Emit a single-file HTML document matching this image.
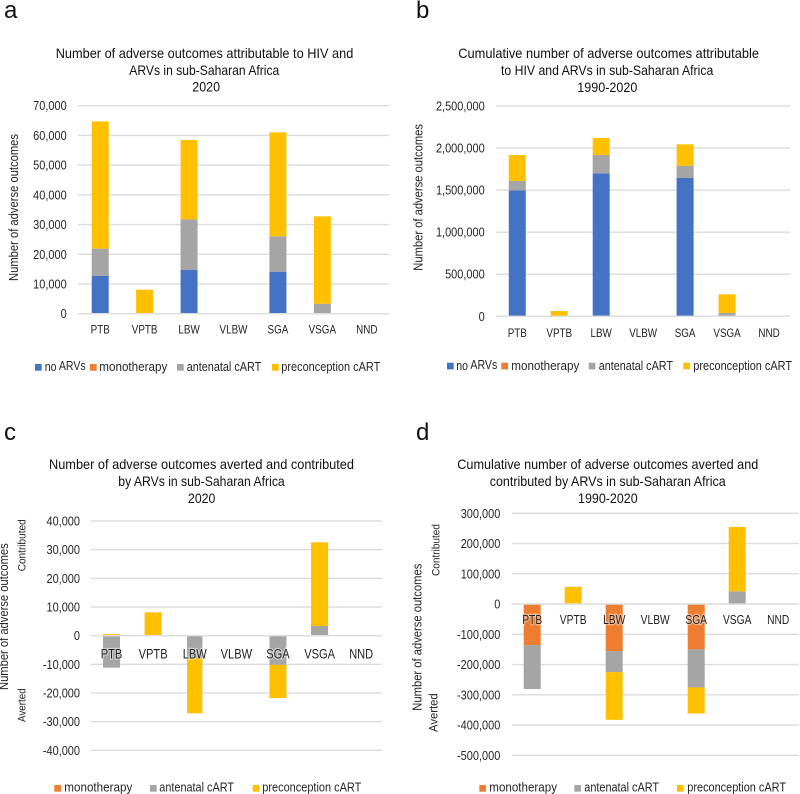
<!DOCTYPE html>
<html lang="en">
<head>
<meta charset="utf-8">
<title>Adverse outcomes attributable to HIV and ARVs in sub-Saharan Africa</title>
<style>
  html, body { margin: 0; padding: 0; background: #fff; }
  body { width: 800px; height: 794px; overflow: hidden; }
  svg { display: block; filter: blur(0.35px); }
  text { font-family: "Liberation Sans", sans-serif; fill: #262626; }
  .title { font-size: 13.8px; fill: #111; }
  .legend { font-size: 12.6px; fill: #262626; }
  .axis-title { font-size: 12.6px; fill: #262626; }
  .panel-letter { font-size: 24px; fill: #111; }
</style>
</head>
<body>
<svg id="figure" xmlns="http://www.w3.org/2000/svg" width="800" height="794" viewBox="0 0 800 794">
  <rect width="800" height="794" fill="#fff"/>

  <g id="panel-a">
    <text class="panel-letter" x="4" y="18">a</text>
    <g>
      <text class="title" x="55.7" y="58" textLength="297.6" lengthAdjust="spacingAndGlyphs">Number of adverse outcomes attributable to HIV and</text>
      <text class="title" x="129.3" y="75" textLength="150" lengthAdjust="spacingAndGlyphs">ARVs in sub-Saharan Africa</text>
      <text class="title" x="192.3" y="91.5" textLength="27.7" lengthAdjust="spacingAndGlyphs">2020</text>
    </g>
    <text class="axis-title" transform="translate(18,281) rotate(-90)" textLength="147" lengthAdjust="spacingAndGlyphs">Number of adverse outcomes</text>
    <g>
      <g><rect x="35" y="364" width="6.7" height="6.7" fill="#4472c4"/><text class="legend" x="44.7" y="371" textLength="41" lengthAdjust="spacingAndGlyphs">no <tspan dy="-1">ARVs</tspan></text></g>
      <g><rect x="90" y="364" width="6.7" height="6.7" fill="#ed7d31"/><text class="legend" x="99.3" y="371" textLength="68" lengthAdjust="spacingAndGlyphs">monotherapy</text></g>
      <g><rect x="177" y="364" width="6.7" height="6.7" fill="#a5a5a5"/><text class="legend" x="186.7" y="371" textLength="74.6" lengthAdjust="spacingAndGlyphs">antenatal cART</text></g>
      <g><rect x="272" y="364" width="6.7" height="6.7" fill="#ffc000"/><text class="legend" x="281.3" y="371" textLength="99" lengthAdjust="spacingAndGlyphs">preconception cART</text></g>
    </g>
  </g>

  <g id="panel-b">
    <text class="panel-letter" x="416" y="18">b</text>
    <g>
      <text class="title" x="458.3" y="58" textLength="300.7" lengthAdjust="spacingAndGlyphs">Cumulative number of adverse outcomes attributable</text>
      <text class="title" x="501" y="75" textLength="212.3" lengthAdjust="spacingAndGlyphs">to HIV and ARVs in sub-Saharan Africa</text>
      <text class="title" x="577.3" y="92" textLength="60" lengthAdjust="spacingAndGlyphs">1990-2020</text>
    </g>
    <text class="axis-title" transform="translate(422.7,270.7) rotate(-90)" textLength="146.7" lengthAdjust="spacingAndGlyphs">Number of adverse outcomes</text>
    <g>
      <g><rect x="447" y="362.7" width="6.7" height="6.7" fill="#4472c4"/><text class="legend" x="456.3" y="370" textLength="41" lengthAdjust="spacingAndGlyphs">no <tspan dy="-1">ARVs</tspan></text></g>
      <g><rect x="501.3" y="362.7" width="6.7" height="6.7" fill="#ed7d31"/><text class="legend" x="511.3" y="370" textLength="68" lengthAdjust="spacingAndGlyphs">monotherapy</text></g>
      <g><rect x="588.7" y="362.7" width="6.7" height="6.7" fill="#a5a5a5"/><text class="legend" x="598.7" y="370" textLength="74.3" lengthAdjust="spacingAndGlyphs">antenatal cART</text></g>
      <g><rect x="683.3" y="362.7" width="6.7" height="6.7" fill="#ffc000"/><text class="legend" x="693.3" y="370" textLength="98.7" lengthAdjust="spacingAndGlyphs">preconception cART</text></g>
    </g>
  </g>

  <g id="panel-c">
    <text class="panel-letter" x="4" y="440">c</text>
    <g>
      <text class="title" x="49" y="469" textLength="305" lengthAdjust="spacingAndGlyphs">Number of adverse outcomes averted and contributed</text>
      <text class="title" x="118.3" y="486" textLength="166.4" lengthAdjust="spacingAndGlyphs">by ARVs in sub-Saharan Africa</text>
      <text class="title" x="188" y="503" textLength="27.3" lengthAdjust="spacingAndGlyphs">2020</text>
    </g>
    <text class="axis-title" transform="translate(8,690) rotate(-90)" textLength="146.7" lengthAdjust="spacingAndGlyphs">Number of adverse outcomes</text>
    <text class="axis-title" style="font-size:11px" transform="translate(25.7,571.3) rotate(-90)" textLength="52" lengthAdjust="spacingAndGlyphs">Contributed</text>
    <text class="axis-title" style="font-size:11px" transform="translate(25.7,722) rotate(-90)" textLength="33.7" lengthAdjust="spacingAndGlyphs">Averted</text>
    <g>
      <g><rect x="54.3" y="785" width="6.7" height="6.7" fill="#ed7d31"/><text class="legend" x="64.3" y="791.7" textLength="68" lengthAdjust="spacingAndGlyphs">monotherapy</text></g>
      <g><rect x="150" y="785" width="6.7" height="6.7" fill="#a5a5a5"/><text class="legend" x="159.3" y="791.7" textLength="74.7" lengthAdjust="spacingAndGlyphs">antenatal cART</text></g>
      <g><rect x="252.7" y="785" width="6.7" height="6.7" fill="#ffc000"/><text class="legend" x="262.3" y="791.7" textLength="99" lengthAdjust="spacingAndGlyphs">preconception cART</text></g>
    </g>
  </g>

  <g id="panel-d">
    <text class="panel-letter" x="416" y="440">d</text>
    <g>
      <text class="title" x="457.3" y="469" textLength="301" lengthAdjust="spacingAndGlyphs">Cumulative number of adverse outcomes averted and</text>
      <text class="title" x="489.7" y="486" textLength="236" lengthAdjust="spacingAndGlyphs">contributed by ARVs in sub-Saharan Africa</text>
      <text class="title" x="578" y="503" textLength="59.7" lengthAdjust="spacingAndGlyphs">1990-2020</text>
    </g>
    <text class="axis-title" transform="translate(421.7,710.7) rotate(-90)" textLength="147" lengthAdjust="spacingAndGlyphs">Number of adverse outcomes</text>
    <text class="axis-title" style="font-size:11px" transform="translate(439.7,576) rotate(-90)" textLength="52" lengthAdjust="spacingAndGlyphs">Contributed</text>
    <text class="axis-title" style="font-size:11.5px" transform="translate(437.7,732) rotate(-90)" textLength="38.7" lengthAdjust="spacingAndGlyphs">Averted</text>
    <g>
      <g><rect x="479.3" y="785" width="6.7" height="6.7" fill="#ed7d31"/><text class="legend" x="489.3" y="791.7" textLength="67.7" lengthAdjust="spacingAndGlyphs">monotherapy</text></g>
      <g><rect x="574.3" y="785" width="6.7" height="6.7" fill="#a5a5a5"/><text class="legend" x="584.3" y="791.7" textLength="74.7" lengthAdjust="spacingAndGlyphs">antenatal cART</text></g>
      <g><rect x="677" y="785" width="6.7" height="6.7" fill="#ffc000"/><text class="legend" x="687.3" y="791.7" textLength="98.7" lengthAdjust="spacingAndGlyphs">preconception cART</text></g>
    </g>
  </g>
</svg>

<script>
// ----- data -----
var categories = ['PTB', 'VPTB', 'LBW', 'VLBW', 'SGA', 'VSGA', 'NND'];

var aTicks = [70000, 60000, 50000, 40000, 30000, 20000, 10000, 0];
var aNoArvs = [12700, 0, 14700, 0, 14130, 0, 0];
var aMono = [0, 0, 0, 0, 0, 0, 0];
var aAntenatal = [9200, 0, 17050, 0, 11900, 3360, 0];
var aPrecon = [42800, 8080, 26700, 0, 35000, 29400, 0];

var bTicks = [2500000, 2000000, 1500000, 1000000, 500000, 0];
var bNoArvs = [1498000, 0, 1700000, 0, 1644000, 0, 0];
var bMono = [0, 0, 0, 0, 0, 0, 0];
var bAntenatal = [111000, 0, 218000, 0, 146000, 40000, 0];
var bPrecon = [309000, 63000, 202000, 0, 254000, 221000, 0];

var cTicks = [40000, 30000, 20000, 10000, 0, -10000, -20000, -30000, -40000];
var cMono = [0, 0, 0, 0, 0, 0, 0];
var cAntenatal = [-11160, 0, -7800, 0, -10200, 3370, 0];
var cPrecon = [600, 8140, -19300, 0, -11550, 29190, 0];

var dTicks = [300000, 200000, 100000, 0, -100000, -200000, -300000, -400000, -500000];
var dMono = [-135600, 0, -155500, 0, -150000, 0, 0];
var dAntenatal = [-145400, 0, -69500, 0, -125700, 42000, 0];
var dPrecon = [0, 57000, -157700, 0, -86100, 213000, 0];

// ----- rendering -----
var SVG_NS = 'http://www.w3.org/2000/svg';
var COLORS = { noArvs: '#4472c4', mono: '#ed7d31', antenatal: '#a5a5a5', precon: '#ffc000' };

function linearY(ticks, top, bottom) {
  var max = Math.max.apply(null, ticks);
  var min = Math.min.apply(null, ticks);
  return function (v) { return bottom - (v - min) / (max - min) * (bottom - top); };
}

function bandX(cats, left, right) {
  var step = (right - left) / cats.length;
  return function (i) { return left + step * (i + 0.5); };
}

function squeeze(el, ratio) {
  var w = el.getComputedTextLength();
  el.setAttribute('textLength', (w * ratio).toFixed(2));
  el.setAttribute('lengthAdjust', 'spacingAndGlyphs');
}

function drawPanel(panelId, layout, ticks, series) {
  var root = document.getElementById(panelId);
  var y = linearY(ticks, layout.top, layout.bottom);
  var x = bandX(categories, layout.left, layout.right);

  ticks.forEach(function (t) {
    var line = document.createElementNS(SVG_NS, 'rect');
    
    
    line.setAttribute('x', layout.left);
    line.setAttribute('y', y(t) - 0.7);
    line.setAttribute('width', layout.right - layout.left);
    line.setAttribute('height', 1.4);
    line.setAttribute('fill', '#dcdcdc');
    root.appendChild(line);
  });

  categories.forEach(function (cat, i) {
    var pos = 0, neg = 0;
    var w = (layout.narrow && layout.narrow[cat]) || layout.barWidth;
    series.forEach(function (s) {
      var v = s.values[i];
      if (!v) return;
      var base = v > 0 ? pos : neg;
      var end = base + v;
      if (v > 0) pos = end; else neg = end;
      var bar = document.createElementNS(SVG_NS, 'rect');
      
      
      bar.setAttribute('data-category', cat);
      bar.setAttribute('data-series', s.name);
      bar.setAttribute('x', x(i) - w / 2);
      bar.setAttribute('y', Math.min(y(base), y(end)));
      bar.setAttribute('width', w);
      bar.setAttribute('height', Math.abs(y(base) - y(end)));
      bar.setAttribute('fill', s.color);
      root.appendChild(bar);
    });
  });

  // the zero line sits over the bars
  var zero = document.createElementNS(SVG_NS, 'rect');
  
  
  zero.setAttribute('x', layout.left);
  zero.setAttribute('y', y(0) - 0.7);
  zero.setAttribute('width', layout.right - layout.left);
  zero.setAttribute('height', 1.4);
  zero.setAttribute('fill', '#dedede');
  root.appendChild(zero);

  ticks.forEach(function (t) {
    var label = document.createElementNS(SVG_NS, 'text');
    
    
    label.setAttribute('x', layout.tickX);
    label.setAttribute('y', y(t) + 4.5);
    label.setAttribute('text-anchor', 'end');
    label.setAttribute('font-size', '12.6');
    label.setAttribute('style', 'fill:#262626');
    label.textContent = t.toLocaleString('en-US');
    root.appendChild(label);
    squeeze(label, 0.87);
  });

  categories.forEach(function (cat, i) {
    var label = document.createElementNS(SVG_NS, 'text');
    
    
    label.setAttribute('x', x(i));
    label.setAttribute('y', layout.catY);
    label.setAttribute('text-anchor', 'middle');
    label.setAttribute('font-size', layout.catSize);
    label.setAttribute('style', 'fill:#222;paint-order:stroke;stroke:rgba(255,255,255,0.45);stroke-width:2.5px');
    label.textContent = cat;
    root.appendChild(label);
    squeeze(label, 0.82);
  });
}

drawPanel('panel-a',
  { left: 78, right: 389, top: 105.7, bottom: 313.7, barWidth: 17, tickX: 66.7, catY: 333.7, catSize: 12 },
  aTicks,
  [
    { name: 'no-arvs', color: COLORS.noArvs, values: aNoArvs },
    { name: 'monotherapy', color: COLORS.mono, values: aMono },
    { name: 'antenatal-cart', color: COLORS.antenatal, values: aAntenatal },
    { name: 'preconception-cart', color: COLORS.precon, values: aPrecon }
  ]);

drawPanel('panel-b',
  { left: 496.3, right: 790, top: 106, bottom: 316.3, barWidth: 17, tickX: 484.7, catY: 337, catSize: 12 },
  bTicks,
  [
    { name: 'no-arvs', color: COLORS.noArvs, values: bNoArvs },
    { name: 'monotherapy', color: COLORS.mono, values: bMono },
    { name: 'antenatal-cart', color: COLORS.antenatal, values: bAntenatal },
    { name: 'preconception-cart', color: COLORS.precon, values: bPrecon }
  ]);

drawPanel('panel-c',
  { left: 90.7, right: 382, top: 521, bottom: 750.3, barWidth: 17, narrow: { LBW: 15.3 }, tickX: 80, catY: 658.3, catSize: 13.5 },
  cTicks,
  [
    { name: 'monotherapy', color: COLORS.mono, values: cMono },
    { name: 'antenatal-cart', color: COLORS.antenatal, values: cAntenatal },
    { name: 'preconception-cart', color: COLORS.precon, values: cPrecon }
  ]);

drawPanel('panel-d',
  { left: 511.7, right: 798.7, top: 513.3, bottom: 755.3, barWidth: 17, tickX: 500.3, catY: 624, catSize: 12.5 },
  dTicks,
  [
    { name: 'monotherapy', color: COLORS.mono, values: dMono },
    { name: 'antenatal-cart', color: COLORS.antenatal, values: dAntenatal },
    { name: 'preconception-cart', color: COLORS.precon, values: dPrecon }
  ]);
</script>
</body>
</html>
